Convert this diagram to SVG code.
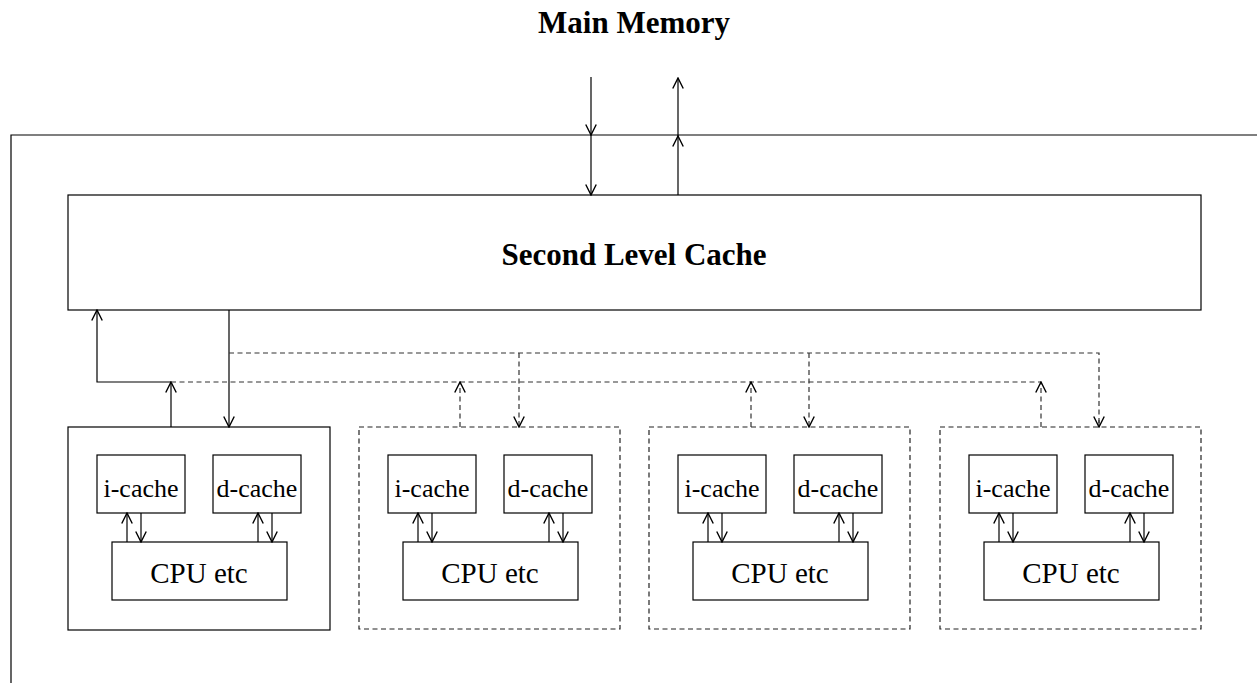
<svg xmlns="http://www.w3.org/2000/svg" width="1257" height="683" viewBox="0 0 1257 683">
<style>
.box{fill:#fff;stroke:#000;stroke-width:1.2}
.dbox{fill:#fff;stroke:#222;stroke-width:1.2;stroke-dasharray:5,3.5}
.ln{fill:none;stroke:#000;stroke-width:1.2}
.dl{fill:none;stroke:#333;stroke-width:1.2;stroke-dasharray:5,3.5}
.arr{marker-end:url(#ah)}
.t-big{font-family:"Liberation Serif","Times New Roman",serif;font-weight:bold;font-size:31px;text-anchor:middle;fill:#000}
.t-c{font-family:"Liberation Serif","Times New Roman",serif;font-size:26px;text-anchor:middle;fill:#000}
.t-cpu{font-family:"Liberation Serif","Times New Roman",serif;font-size:29px;text-anchor:middle;fill:#000}
</style>
<defs>
<marker id="ah" markerUnits="userSpaceOnUse" markerWidth="14" markerHeight="14" viewBox="-11 -6 12 12" refX="0" refY="0" orient="auto">
<path d="M-9,-4.5 L0,0 L-9,4.5" fill="none" stroke="#000" stroke-width="1.2"/>
</marker>
<g id="cpuInner">
<rect class="box" x="29" y="28" width="88" height="58"/>
<text class="t-c" x="73" y="70">i-cache</text>
<rect class="box" x="145" y="28" width="88" height="58"/>
<text class="t-c" x="189" y="70">d-cache</text>
<rect class="box" x="44" y="115" width="175" height="58"/>
<text class="t-cpu" x="131" y="156">CPU etc</text>
<line class="ln arr" x1="59" y1="115" x2="59" y2="86"/>
<line class="ln arr" x1="73" y1="86" x2="73" y2="115"/>
<line class="ln arr" x1="190" y1="115" x2="190" y2="86"/>
<line class="ln arr" x1="204" y1="86" x2="204" y2="115"/>
</g>
</defs>

<g id="frame">
<polyline class="ln" points="11,683 11,135 1257,135"/>
</g>

<g id="main-memory">
<text class="t-big" x="634" y="33">Main Memory</text>
</g>

<g id="second-level-cache">
<rect class="box" x="68" y="195" width="1133" height="115"/>
<text class="t-big" x="634" y="265">Second Level Cache</text>
</g>

<g id="cpu1">
<rect class="box" x="68" y="427" width="262" height="203"/>
<use href="#cpuInner" transform="translate(68,427)"/>
</g>
<g id="cpu2">
<rect class="dbox" x="359" y="427" width="261" height="202"/>
<use href="#cpuInner" transform="translate(359,427)"/>
</g>
<g id="cpu3">
<rect class="dbox" x="649" y="427" width="261" height="202"/>
<use href="#cpuInner" transform="translate(649,427)"/>
</g>
<g id="cpu4">
<rect class="dbox" x="940" y="427" width="261" height="202"/>
<use href="#cpuInner" transform="translate(940,427)"/>
</g>

<g id="connectors">
<!-- main memory links -->
<line class="ln arr" x1="591" y1="77" x2="591" y2="135"/>
<line class="ln arr" x1="591" y1="135" x2="591" y2="195"/>
<line class="ln arr" x1="678" y1="195" x2="678" y2="136"/>
<line class="ln arr" x1="678" y1="136" x2="678" y2="78"/>
<!-- CPU1 solid links -->
<polyline class="ln arr" points="171,382 97,382 97,310"/>
<line class="ln arr" x1="171" y1="427" x2="171" y2="382"/>
<line class="ln arr" x1="229" y1="310" x2="229" y2="427"/>
<!-- dashed buses -->
<line class="dl" x1="171" y1="382" x2="1041" y2="382"/>
<polyline class="dl" points="229,353 1099,353 1099,427"/>
<!-- CPU2-4 dashed links -->
<line class="dl arr" x1="460" y1="427" x2="460" y2="382"/>
<line class="dl arr" x1="519" y1="353" x2="519" y2="427"/>
<line class="dl arr" x1="751" y1="427" x2="751" y2="382"/>
<line class="dl arr" x1="809" y1="353" x2="809" y2="427"/>
<line class="dl arr" x1="1041" y1="427" x2="1041" y2="382"/>
<line class="dl" x1="1099" y1="420" x2="1099" y2="427" marker-end="url(#ah)"/>
</g>
</svg>
